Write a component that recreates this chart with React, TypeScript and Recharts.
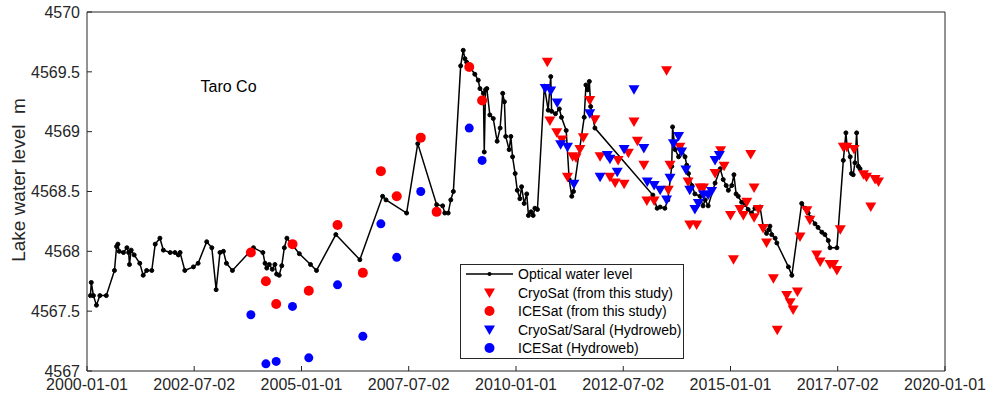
import { ComposedChart, Line, Scatter, XAxis, YAxis, ReferenceDot } from 'recharts';

// tick labels (dates) and level ticks
const xTickLabels = [
  '2000-01-01', '2002-07-02', '2005-01-01', '2007-07-02', '2010-01-01',
  '2012-07-02', '2015-01-01', '2017-07-02', '2020-01-01',
];
const yTicks = [4567, 4567.5, 4568, 4568.5, 4569, 4569.5, 4570];

// optical water level, [decimal year, level m]
const optical: [number, number][] = [
  [2000.08, 4567.63], [2000.1, 4567.74], [2000.15, 4567.63], [2000.22, 4567.55], [2000.3, 4567.63],
  [2000.45, 4567.63], [2000.64, 4567.84], [2000.69, 4568.04], [2000.72, 4568.06], [2000.75, 4568.0],
  [2000.85, 4567.99], [2000.93, 4568.03], [2000.97, 4567.99], [2000.99, 4567.89], [2001.03, 4568.01],
  [2001.1, 4567.97], [2001.23, 4567.9], [2001.31, 4567.8], [2001.39, 4567.84], [2001.51, 4567.84],
  [2001.59, 4568.06], [2001.7, 4568.11], [2001.78, 4568.01], [2001.94, 4567.99], [2002.05, 4567.99],
  [2002.13, 4567.97], [2002.17, 4567.99], [2002.28, 4567.84], [2002.48, 4567.87], [2002.59, 4567.9],
  [2002.79, 4568.08], [2002.91, 4568.03], [2003.01, 4567.68], [2003.1, 4567.99], [2003.18, 4568.0],
  [2003.25, 4567.9], [2003.39, 4567.84], [2003.88, 4568.03], [2004.1, 4567.99], [2004.15, 4567.9],
  [2004.19, 4567.86], [2004.25, 4567.89], [2004.32, 4567.85], [2004.38, 4567.89], [2004.42, 4567.81],
  [2004.48, 4567.8], [2004.54, 4567.88], [2004.6, 4568.03], [2004.66, 4568.11], [2004.95, 4567.98],
  [2005.21, 4567.89], [2005.35, 4567.84], [2005.8, 4568.14], [2006.36, 4567.93], [2006.89, 4568.46],
  [2006.97, 4568.43], [2007.45, 4568.32], [2007.71, 4568.9], [2008.15, 4568.39], [2008.29, 4568.38],
  [2008.34, 4568.32], [2008.42, 4568.32], [2008.48, 4568.43], [2008.54, 4568.5], [2008.71, 4569.55],
  [2008.77, 4569.68], [2008.81, 4569.61], [2008.85, 4569.58], [2009.04, 4569.48], [2009.12, 4569.43],
  [2009.16, 4569.36], [2009.24, 4569.32], [2009.26, 4568.83], [2009.29, 4569.35], [2009.32, 4569.36],
  [2009.39, 4569.14], [2009.47, 4569.11], [2009.56, 4568.92], [2009.63, 4569.03], [2009.69, 4569.32],
  [2009.73, 4569.25], [2009.76, 4568.96], [2009.84, 4568.85], [2009.88, 4568.96], [2009.92, 4568.79],
  [2009.98, 4568.65], [2010.03, 4568.51], [2010.09, 4568.44], [2010.13, 4568.54], [2010.19, 4568.4],
  [2010.25, 4568.48], [2010.29, 4568.3], [2010.35, 4568.33], [2010.4, 4568.3], [2010.44, 4568.36],
  [2010.5, 4568.35], [2010.66, 4569.38], [2010.75, 4569.18], [2010.81, 4569.46], [2010.83, 4569.17],
  [2010.92, 4569.15], [2011.01, 4569.19], [2011.06, 4569.12], [2011.17, 4569.01], [2011.24, 4568.6],
  [2011.3, 4568.46], [2011.34, 4568.5], [2011.59, 4569.12], [2011.63, 4569.39], [2011.67, 4569.35],
  [2011.71, 4569.42], [2011.74, 4569.21], [2011.84, 4569.03], [2013.19, 4568.47], [2013.29, 4568.36],
  [2013.36, 4568.37], [2013.47, 4568.36], [2013.54, 4568.43], [2013.63, 4568.71], [2013.65, 4569.04],
  [2013.71, 4568.85], [2013.79, 4568.79], [2013.87, 4568.85], [2013.94, 4568.79], [2013.98, 4568.72],
  [2014.02, 4568.65], [2014.1, 4568.55], [2014.17, 4568.48], [2014.29, 4568.46], [2014.36, 4568.38],
  [2014.41, 4568.43], [2014.48, 4568.38], [2014.64, 4568.57], [2014.76, 4568.69], [2014.83, 4568.6],
  [2014.9, 4568.55], [2014.95, 4568.51], [2015.03, 4568.55], [2015.08, 4568.64], [2015.13, 4568.48],
  [2015.18, 4568.46], [2015.26, 4568.41], [2015.34, 4568.39], [2015.41, 4568.35], [2015.49, 4568.32],
  [2015.57, 4568.36], [2015.69, 4568.37], [2015.76, 4568.21], [2015.84, 4568.15], [2015.89, 4568.18],
  [2015.92, 4568.21], [2015.96, 4568.14], [2016.04, 4568.11], [2016.08, 4568.07], [2016.35, 4567.87],
  [2016.43, 4567.8], [2016.66, 4568.4], [2016.74, 4568.36], [2016.81, 4568.32], [2016.88, 4568.28],
  [2016.97, 4568.23], [2017.04, 4568.2], [2017.13, 4568.16], [2017.2, 4568.14], [2017.28, 4568.09],
  [2017.32, 4568.03], [2017.48, 4568.03], [2017.63, 4568.76], [2017.69, 4568.99], [2017.72, 4568.87],
  [2017.79, 4568.79], [2017.82, 4568.65], [2017.86, 4568.64], [2017.9, 4568.74], [2017.94, 4568.99],
  [2017.98, 4568.71], [2018.02, 4568.69],
];

// CryoSat (from this study)
const cryoStudy: [number, number][] = [
  [2010.73, 4569.58], [2010.79, 4569.09], [2010.95, 4568.99], [2011.07, 4568.93], [2011.2, 4568.62],
  [2011.32, 4568.79], [2011.4, 4568.78], [2011.49, 4568.85], [2011.57, 4568.95], [2011.72, 4569.26],
  [2011.84, 4569.1], [2011.96, 4568.79], [2012.19, 4568.62], [2012.31, 4568.57], [2012.38, 4568.76],
  [2012.52, 4568.56], [2012.62, 4568.82], [2012.75, 4569.08], [2012.83, 4568.92], [2012.98, 4568.72],
  [2013.05, 4568.42], [2013.22, 4568.42], [2013.51, 4569.51], [2013.55, 4568.51], [2013.59, 4568.72],
  [2013.82, 4568.87], [2014.01, 4568.58], [2014.05, 4568.22], [2014.21, 4568.22], [2014.29, 4568.53],
  [2014.37, 4568.53], [2014.64, 4568.65], [2014.77, 4568.84], [2014.85, 4568.71], [2015.0, 4568.3],
  [2015.07, 4567.93], [2015.22, 4568.35], [2015.3, 4568.3], [2015.38, 4568.41], [2015.47, 4568.81],
  [2015.55, 4568.53], [2015.55, 4568.28], [2015.65, 4568.35], [2015.76, 4568.19], [2015.84, 4568.07],
  [2016.0, 4567.77], [2016.09, 4567.34], [2016.31, 4567.63], [2016.39, 4567.57], [2016.46, 4567.51],
  [2016.56, 4567.66], [2016.62, 4568.12], [2016.78, 4568.34], [2016.85, 4568.26], [2017.01, 4567.97],
  [2017.09, 4567.91], [2017.32, 4567.89], [2017.4, 4567.89], [2017.48, 4567.84], [2017.56, 4568.18],
  [2017.63, 4568.87], [2017.71, 4568.87], [2017.88, 4568.85], [2018.1, 4568.64], [2018.17, 4568.62],
  [2018.27, 4568.37], [2018.37, 4568.6], [2018.45, 4568.58],
];

// ICESat (from this study)
const iceStudy: [number, number][] = [
  [2003.82, 4567.99], [2004.17, 4567.75], [2004.41, 4567.56], [2004.79, 4568.06], [2005.17, 4567.67],
  [2005.84, 4568.22], [2006.43, 4567.82], [2006.85, 4568.67], [2007.22, 4568.46], [2007.78, 4568.95],
  [2008.15, 4568.33], [2008.91, 4569.54], [2009.21, 4569.26],
];

// CryoSat/Saral (Hydroweb)
const cryoHydroweb: [number, number][] = [
  [2010.68, 4569.36], [2010.81, 4569.34], [2010.96, 4569.24], [2011.04, 4568.89], [2011.2, 4568.87],
  [2011.35, 4568.56], [2011.72, 4569.15], [2011.96, 4568.62], [2012.13, 4568.8], [2012.19, 4568.77],
  [2012.36, 4568.66], [2012.52, 4568.85], [2012.75, 4569.35], [2012.98, 4568.86], [2013.06, 4568.58],
  [2013.22, 4568.55], [2013.36, 4568.51], [2013.51, 4568.43], [2013.59, 4568.61], [2013.67, 4568.9],
  [2013.79, 4568.96], [2013.86, 4568.83], [2013.96, 4568.68], [2014.05, 4568.51], [2014.17, 4568.35],
  [2014.25, 4568.4], [2014.37, 4568.47], [2014.48, 4568.47], [2014.56, 4568.5], [2014.64, 4568.76],
  [2014.74, 4568.8],
];

// ICESat (Hydroweb)
const iceHydroweb: [number, number][] = [
  [2003.82, 4567.47], [2004.17, 4567.06], [2004.41, 4567.08], [2004.79, 4567.54], [2005.17, 4567.11],
  [2005.84, 4567.72], [2006.43, 4567.29], [2006.85, 4568.23], [2007.22, 4567.95], [2007.78, 4568.5],
  [2008.91, 4569.03], [2009.21, 4568.76],
];

const toPoints = (rows: [number, number][]) => rows.map(([x, y]) => ({ x, y }));

// date string -> decimal year
const toYear = (s: string) => {
  const [y, m, d] = s.split('-').map(Number);
  const start = Date.UTC(y, 0, 1);
  const end = Date.UTC(y + 1, 0, 1);
  return y + (Date.UTC(y, m - 1, d) - start) / (end - start);
};
const xTicks = xTickLabels.map(toYear);

const RED = '#ff0000';
const BLUE = '#0000ff';
const AXIS = '#262626';
const FONT = '"Liberation Sans", Arial, sans-serif';

const DownTriangle = ({ cx, cy, fill }: { cx?: number; cy?: number; fill: string }) => {
  if (cx == null || cy == null) return null;
  const pts = `${cx - 5.5},${cy - 4.5} ${cx + 5.5},${cy - 4.5} ${cx},${cy + 5}`;
  return <polygon points={pts} fill={fill} />;
};

const legendItems = [
  { label: 'Optical water level', kind: 'line' },
  { label: 'CryoSat (from this study)', kind: 'tri', color: RED },
  { label: 'ICESat (from this study)', kind: 'circle', color: RED },
  { label: 'CryoSat/Saral (Hydroweb)', kind: 'tri', color: BLUE },
  { label: 'ICESat (Hydroweb)', kind: 'circle', color: BLUE },
];

// legend box drawn over the plot, like the MATLAB one
const LegendBox = () => (
  <div
    style={{
      position: 'absolute',
      left: 460,
      top: 264,
      width: 224,
      height: 95,
      boxSizing: 'border-box',
      border: `1px solid ${AXIS}`,
      background: '#fff',
      padding: '0 0 0 5px',
      fontFamily: FONT,
      fontSize: 14,
      color: '#000',
    }}
  >
    {legendItems.map((item) => (
      <div key={item.label} style={{ display: 'flex', alignItems: 'center', height: 18.5 }}>
        <svg width={48} height={14} style={{ marginRight: 4, flexShrink: 0 }}>
          {item.kind === 'line' && (
            <>
              <line x1={0} y1={7} x2={47} y2={7} stroke="#000" strokeWidth={1.5} />
              <circle cx={23.5} cy={7} r={2} fill="#000" />
            </>
          )}
          {item.kind === 'tri' && <DownTriangle cx={23.5} cy={7} fill={item.color!} />}
          {item.kind === 'circle' && <circle cx={23.5} cy={7} r={5} fill={item.color} />}
        </svg>
        <span style={{ whiteSpace: 'nowrap' }}>{item.label}</span>
      </div>
    ))}
  </div>
);

export default function App() {
  return (
    <div
      style={{
        position: 'absolute',
        left: 0,
        top: 0,
        width: 987,
        height: 399,
        background: '#fff',
        fontFamily: FONT,
      }}
    >
      <ComposedChart width={987} height={399} margin={{ top: 11, right: 41, bottom: 0, left: 0 }}>
        <XAxis
          xAxisId="b"
          type="number"
          dataKey="x"
          domain={[2000, 2020]}
          ticks={xTicks}
          tickFormatter={(_v: number, i: number) => xTickLabels[i]}
          height={28}
          tickSize={-5}
          tickMargin={13}
          stroke={AXIS}
          tick={{ fill: AXIS, fontSize: 16 }}
          interval={0}
          allowDataOverflow
        />
        <XAxis
          xAxisId="t"
          type="number"
          orientation="top"
          domain={[2000, 2020]}
          ticks={xTicks}
          height={1}
          tick={false}
          tickSize={-5}
          stroke={AXIS}
          interval={0}
          allowDataOverflow
        />
        <YAxis
          yAxisId="l"
          type="number"
          dataKey="y"
          domain={[4567, 4570]}
          ticks={yTicks}
          width={87}
          tickSize={-5}
          tickMargin={12}
          stroke={AXIS}
          tick={{ fill: AXIS, fontSize: 16 }}
          interval={0}
          allowDataOverflow
        />
        <YAxis
          yAxisId="r"
          type="number"
          orientation="right"
          domain={[4567, 4570]}
          ticks={yTicks}
          width={1}
          tick={false}
          tickSize={-5}
          stroke={AXIS}
          interval={0}
          allowDataOverflow
        />
        <Line
          xAxisId="b"
          yAxisId="l"
          data={toPoints(optical)}
          dataKey="y"
          stroke="#000"
          strokeWidth={1.5}
          dot={{ r: 2, fill: '#000', stroke: '#000', strokeWidth: 1 }}
          isAnimationActive={false}
        />
        <Scatter
          xAxisId="b"
          yAxisId="l"
          data={toPoints(cryoStudy)}
          shape={(p: any) => <DownTriangle cx={p.cx} cy={p.cy} fill={RED} />}
          isAnimationActive={false}
        />
        <Scatter
          xAxisId="b"
          yAxisId="l"
          data={toPoints(iceStudy)}
          shape={(p: any) => <circle cx={p.cx} cy={p.cy} r={5} fill={RED} />}
          isAnimationActive={false}
        />
        <Scatter
          xAxisId="b"
          yAxisId="l"
          data={toPoints(cryoHydroweb)}
          shape={(p: any) => <DownTriangle cx={p.cx} cy={p.cy} fill={BLUE} />}
          isAnimationActive={false}
        />
        <Scatter
          xAxisId="b"
          yAxisId="l"
          data={toPoints(iceHydroweb)}
          shape={(p: any) => <circle cx={p.cx} cy={p.cy} r={4.5} fill={BLUE} />}
          isAnimationActive={false}
        />
        <ReferenceDot
          xAxisId="b"
          yAxisId="l"
          x={2003.3}
          y={4569.38}
          r={0}
          label={{ value: 'Taro Co', position: 'center', fill: '#000', fontSize: 16 }}
        />
      </ComposedChart>
      <LegendBox />
      <div
        style={{
          position: 'absolute',
          left: 19,
          top: 180,
          transform: 'translate(-50%, -50%) rotate(-90deg)',
          whiteSpace: 'pre',
          fontSize: 19,
          color: AXIS,
        }}
      >
        {'Lake water level  m'}
      </div>
    </div>
  );
}
